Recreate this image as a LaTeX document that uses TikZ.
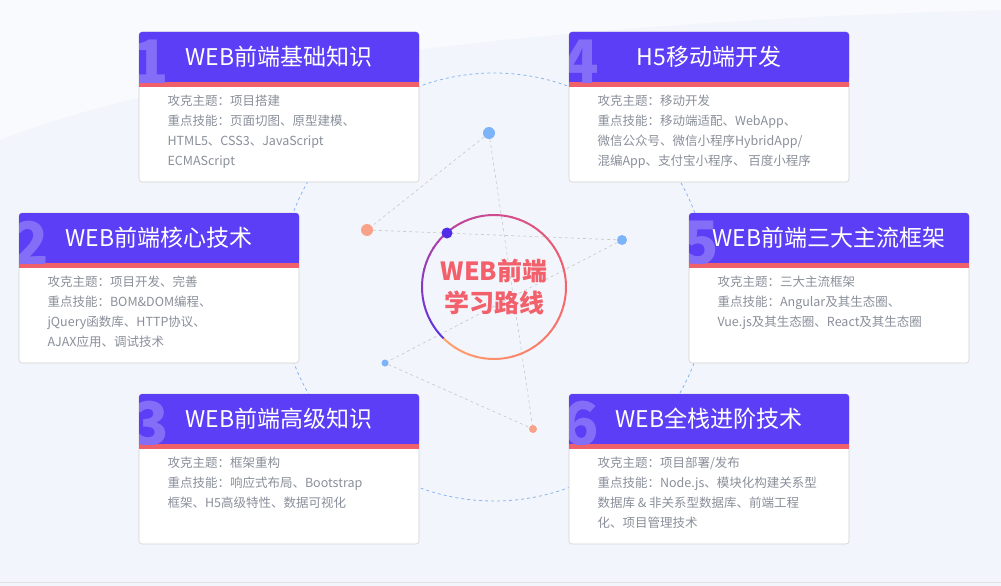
\documentclass[tikz,border=0pt]{standalone}
\usepackage{fontspec}
\setmainfont{Noto Sans CJK SC}
\begin{document}
\definecolor{bg}{HTML}{F2F6FC}
\definecolor{pur}{HTML}{5B3EF6}
\definecolor{strip}{HTML}{F0606A}
\definecolor{body}{HTML}{8A8F9A}
\definecolor{ring}{HTML}{8AB4F0}
\definecolor{cO}{HTML}{FFA26E}
\definecolor{cR}{HTML}{F2606C}
\definecolor{cM}{HTML}{C0449A}
\definecolor{cP}{HTML}{5A32E6}
\definecolor{dotB}{HTML}{7DB3F8}
\definecolor{dotO}{HTML}{F9A28A}
\begin{tikzpicture}[x=1pt,y=-1pt,
  card/.style={draw=black!18,fill=white,rounded corners=3pt,line width=0.6pt},
  head/.style={fill=pur},
  title/.style={text=white,font=\fontsize{23}{26}\selectfont,anchor=center},
  num/.style={text=white!25!pur,font=\fontsize{60}{60}\selectfont\bfseries,anchor=center},
  txt/.style={text=body,font=\fontsize{12.5}{20}\selectfont,anchor=north west,align=left},
  link/.style={draw=black!22,dashed,line width=0.6pt},
  dot/.style={circle,inner sep=0pt}]
\useasboundingbox (0,0) rectangle (1001,586);
\fill[bg] (0,0) rectangle (1001,586);
\fill[white,opacity=0.5] (0,0) -- (1001,0) -- (1001,10) .. controls (600,20) and (200,60) .. (0,140) -- cycle;
\draw[black!12] (0,582) -- (1001,582);
\draw[ring,dashed,dash pattern=on 3pt off 3pt,line width=0.8pt] (494,287) circle (214);
% links
\node[dot,fill=dotB,minimum size=12pt] (d1) at (489,133) {};
\node[dot,fill=dotO,minimum size=12pt] (d2) at (367,230) {};
\node[dot,fill=dotB,minimum size=10pt] (d3) at (622,240) {};
\node[dot,fill=dotB,minimum size=7pt] (d4) at (385,363) {};
\node[dot,fill=dotO,minimum size=8pt] (d5) at (533,429) {};
\begin{scope}[on background layer/.style={}]
\draw[link] (d1) -- (d2);
\draw[link] (d2) -- (d3);
\draw[link] (d1) -- (d5);
\draw[link] (d3) -- (d4);
\draw[link] (d4) -- (d5);
\end{scope}
% ring
\foreach \i in {0,...,59}{
  \pgfmathsetmacro\t{\i/60}
  \pgfmathsetmacro\a{135-6*\i}
  \pgfmathsetmacro\b{135-6*(\i+1)-0.5}
  \ifdim\t pt<0.4pt
    \pgfmathsetmacro\p{100-\t/0.4*100}\colorlet{segc}{cO!\p!cR}
  \else\ifdim\t pt<0.7pt
    \pgfmathsetmacro\p{100-(\t-0.4)/0.3*100}\colorlet{segc}{cR!\p!cM}
  \else
    \pgfmathsetmacro\p{100-(\t-0.7)/0.3*100}\colorlet{segc}{cM!\p!cP}
  \fi\fi
  \draw[segc,line width=2pt] ([shift={(\a:72)}]494,287) arc[start angle=\a,end angle=\b,radius=72];
}
\node[dot,fill=cP!90!blue,minimum size=11pt] (d0) at (447,233) {};
\node[text=cR,font=\fontsize{25}{32}\selectfont\bfseries,align=center] (center) at (494,287) {WEB前端\\学习路线};
% cards
\foreach \n/\x/\y/\ti in {1/139/32/WEB前端基础知识,4/569/32/H5移动端开发,2/19/213/WEB前端核心技术,5/689/213/WEB前端三大主流框架,3/139/394/WEB前端高级知识,6/569/394/WEB全栈进阶技术}{
  \draw[card] (\x,\y) rectangle ++(280,150);
  \fill[head,rounded corners=3pt] (\x,\y) -- ++(280,0) -- ++(0,50) -- ++(-280,0) -- cycle;
  \fill[pur] (\x,\y+40) rectangle ++(280,10);
  \fill[strip] (\x,\y+50) rectangle ++(280,5);
  \begin{scope}
  \clip (\x,\y) rectangle ++(280,50);
  \node[num] (n\n) at (\x+12,\y+30) {\n};
  \end{scope}
  \node[title] (t\n) at (\x+140,\y+25) {\ti};
}
\node[txt] (b1) at (164,91) {攻克主题：项目搭建\\重点技能：页面切图、原型建模、\\HTML5、CSS3、JavaScript\\ECMAScript};
\node[txt] (b4) at (594,91) {攻克主题：移动开发\\重点技能：移动端适配、WebApp、\\微信公众号、微信小程序HybridApp/\\混编App、支付宝小程序、 百度小程序};
\node[txt] (b2) at (44,272) {攻克主题：项目开发、完善\\重点技能：BOM\&DOM编程、\\jQuery函数库、HTTP协议、\\AJAX应用、调试技术};
\node[txt] (b5) at (714,272) {攻克主题：三大主流框架\\重点技能：Angular及其生态圈、\\Vue.js及其生态圈、React及其生态圈};
\node[txt] (b3) at (164,453) {攻克主题：框架重构\\重点技能：响应式布局、Bootstrap\\框架、H5高级特性、数据可视化};
\node[txt] (b6) at (594,453) {攻克主题：项目部署/发布\\重点技能：Node.js、模块化构建关系型\\数据库 \& 非关系型数据库、前端工程\\化、项目管理技术};
\end{tikzpicture}
\end{document}
